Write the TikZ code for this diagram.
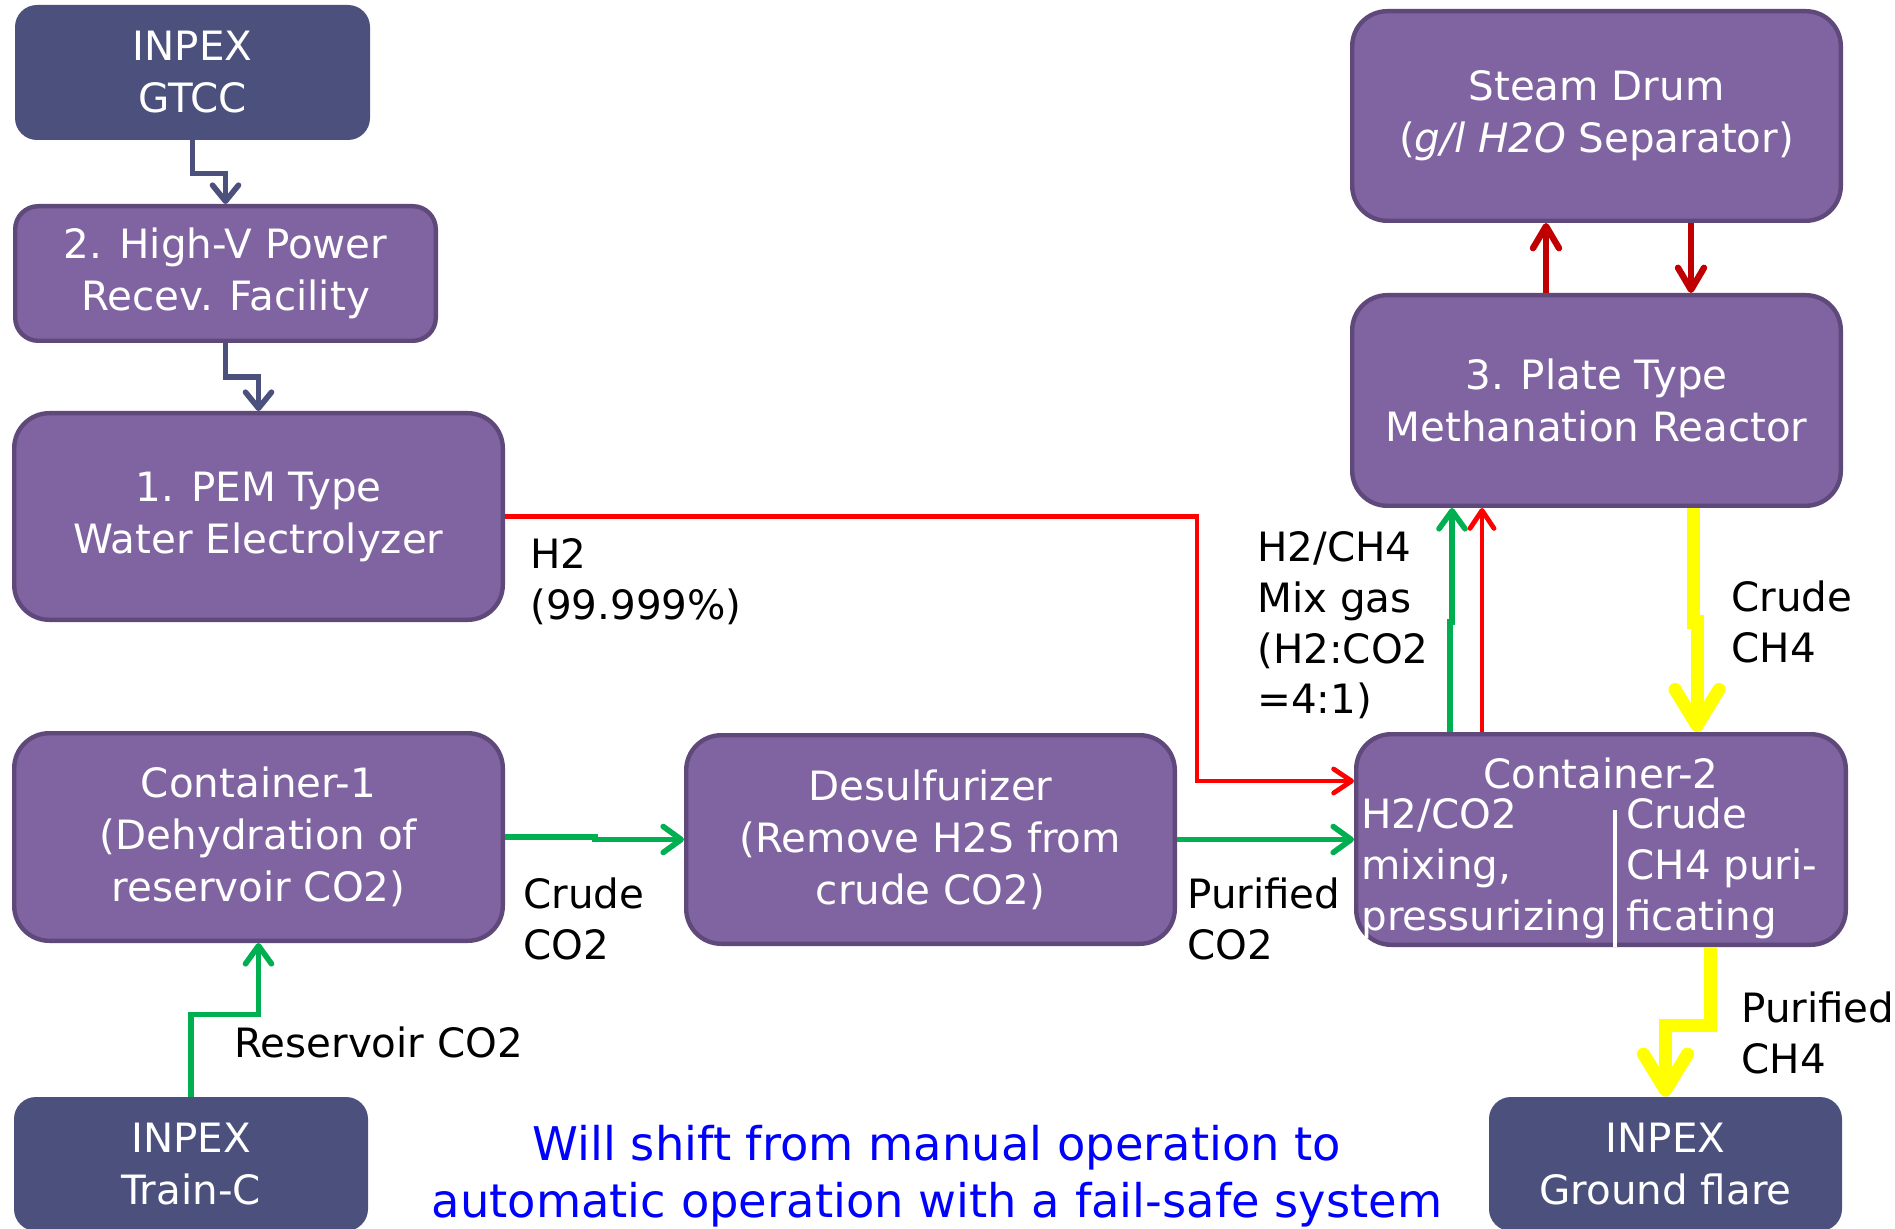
\documentclass[tikz,border=0pt]{standalone}
\usepackage{fontspec}
\setmainfont{DejaVu Sans}
\usetikzlibrary{arrows.meta}
\definecolor{boxpurple}{HTML}{8064A2}
\definecolor{boxborder}{HTML}{5E497A}
\definecolor{navybox}{HTML}{4B507D}
\definecolor{flowgreen}{HTML}{00B050}
\definecolor{flowred}{HTML}{FF0000}
\definecolor{darkred}{HTML}{C00000}
\definecolor{flowyellow}{HTML}{FFFF00}
\definecolor{noteblue}{HTML}{0000FF}
\tikzset{
  pbox/.style={draw=boxborder, fill=boxpurple, line width=2.2pt, text=white, align=center,
    inner sep=0pt, font=\fontsize{20.2}{26}\selectfont},
  nbox/.style={fill=navybox, text=white, align=center, inner sep=0pt, rounded corners=11pt,
    font=\fontsize{20.2}{26}\selectfont},
  lbl/.style={anchor=north west, inner sep=0pt, align=left, font=\fontsize{20.2}{25.4}\selectfont},
  wlbl/.style={lbl, text=white},
  navyflow/.style={draw=navybox, line width=2.8pt, -{Straight Barb[length=8pt,width=13pt,round]}},
  redflow/.style={draw=flowred, line width=2.4pt, -{Straight Barb[length=9pt,width=12pt,round]}},
  greenflow/.style={draw=flowgreen, line width=2.8pt, -{Straight Barb[length=9pt,width=13pt,round]}},
  drflow/.style={draw=darkred, line width=3.2pt, -{Straight Barb[length=11pt,width=13pt,round]}},
  yflow/.style={draw=flowyellow, line width=6.5pt, -{Straight Barb[length=18pt,width=22pt,round]}},
}
\begin{document}
\begin{tikzpicture}[x=0.5pt,y=-0.5pt]
\fill[white] (0,0) rectangle (1895,1229);
\useasboundingbox (0,0) rectangle (1895,1229);

% boxes
\node[nbox, minimum width=177.5pt, minimum height=67.5pt] (gtcc) at (192.5,72.5) {INPEX\\GTCC};
\node[pbox, rounded corners=11.5pt, minimum width=210.3pt, minimum height=67.3pt] (hv) at (225.5,273.5) {2. High-V Power\\Recev. Facility};
\node[pbox, rounded corners=17.5pt, minimum width=244.3pt, minimum height=103.3pt] (pem) at (258.5,516.5) {1. PEM Type\\Water Electrolyzer};
\node[pbox, rounded corners=17.5pt, minimum width=244.3pt, minimum height=103.8pt] (c1) at (258.5,837) {Container-1\\(Dehydration of\\reservoir CO2)};
\node[pbox, rounded corners=17.5pt, minimum width=244.3pt, minimum height=104.3pt] (ds) at (930.5,839.5) {Desulfurizer\\(Remove H2S from\\crude CO2)};
\node[pbox, rounded corners=17.5pt, minimum width=244.8pt, minimum height=105.3pt] (c2) at (1601,839.5) {};
\node[pbox, rounded corners=17.5pt, minimum width=244.3pt, minimum height=104.8pt] (steam) at (1596.5,116) {Steam Drum\\(\textit{g/l H2O} Separator)};
\node[pbox, rounded corners=17.5pt, minimum width=244.3pt, minimum height=105.3pt] (plate) at (1596.5,400.5) {3. Plate Type\\Methanation Reactor};
\node[nbox, minimum width=177pt, minimum height=67pt] (train) at (191,1164) {INPEX\\Train-C};
\node[nbox, minimum width=176.5pt, minimum height=67pt] (flare) at (1665.5,1164) {INPEX\\Ground flare};

% container-2 contents
\node[anchor=base, inner sep=0pt, text=white, font=\fontsize{20.2}{25.4}\selectfont] (c2title) at (1601,788) {Container-2};
\node[wlbl] (c2left) at (1361,792.6) {\strut H2/CO2\\mixing,\\pressurizing};
\node[wlbl] (c2right) at (1626,792.6) {\strut Crude\\CH4 puri-\\ficating};
\coordinate (sepT) at (1615,810);
\draw[white, line width=2pt] (sepT) -- (sepT |- c2.south);

% labels
\node[lbl] (h2lbl) at (530,532.6) {\strut H2\\(99.999\%)};
\node[lbl] (mixlbl) at (1257,525.6) {\strut H2/CH4\\Mix gas\\(H2:CO2\\=4:1)};
\node[lbl] (crch4) at (1731,575.6) {\strut Crude\\CH4};
\node[lbl] (puco2) at (1187,872.6) {\strut Purified\\CO2};
\node[lbl] (crco2) at (523,872.6) {\strut Crude\\CO2};
\node[lbl] (reslbl) at (234,1021.6) {\strut Reservoir CO2};
\node[lbl] (puch4) at (1741,986.6) {\strut Purified\\CH4};
\node[anchor=north, inner sep=0pt, align=center, text=noteblue, font=\fontsize{23.2}{28.5}\selectfont] (note) at (937,1120) {\strut Will shift from manual operation to\\automatic operation with a fail-safe system};

% connectors
\draw[navyflow] (gtcc.south) -- ++(0,33) -| (hv.north);
\draw[navyflow] (hv.south) -- ++(0,34) -| (pem.north);
\draw[greenflow] (train.north) -- ++(0,-82) -| (c1.south);
\coordinate (h2bend) at (1197,781);
\draw[redflow] (pem.east) -| (h2bend) -- (h2bend -| c2.west);
\draw[greenflow] (c1.east) -- ++(90,0) |- (ds.west);
\draw[greenflow] (ds.east) -- (c2.west);
% container-2 -> plate
\coordinate (gA) at (1450,622);
\coordinate (gB) at (1452,622);
\draw[greenflow] (c2.north -| gA) -- (gA) -- (gB) -- (plate.south -| gB);
\coordinate (rA) at (1482,0);
\draw[redflow] (c2.north -| rA) -- (plate.south -| rA);
% plate -> container-2 crude CH4
\coordinate (yA) at (1693,622);
\coordinate (yB) at (1697,622);
\draw[yflow] (plate.south -| yA) -- (yA) -- (yB) -- (c2.north -| yB);
% plate <-> steam drum
\coordinate (sU) at (1546,0);
\coordinate (sD) at (1691,0);
\draw[drflow] (plate.north -| sU) -- (steam.south -| sU);
\draw[drflow] (steam.south -| sD) -- (plate.north -| sD);
% container-2 -> ground flare
\coordinate (fA) at (1710,1025);
\draw[yflow] (c2.south -| fA) -- (fA) -| (flare.north);
\end{tikzpicture}
\end{document}
